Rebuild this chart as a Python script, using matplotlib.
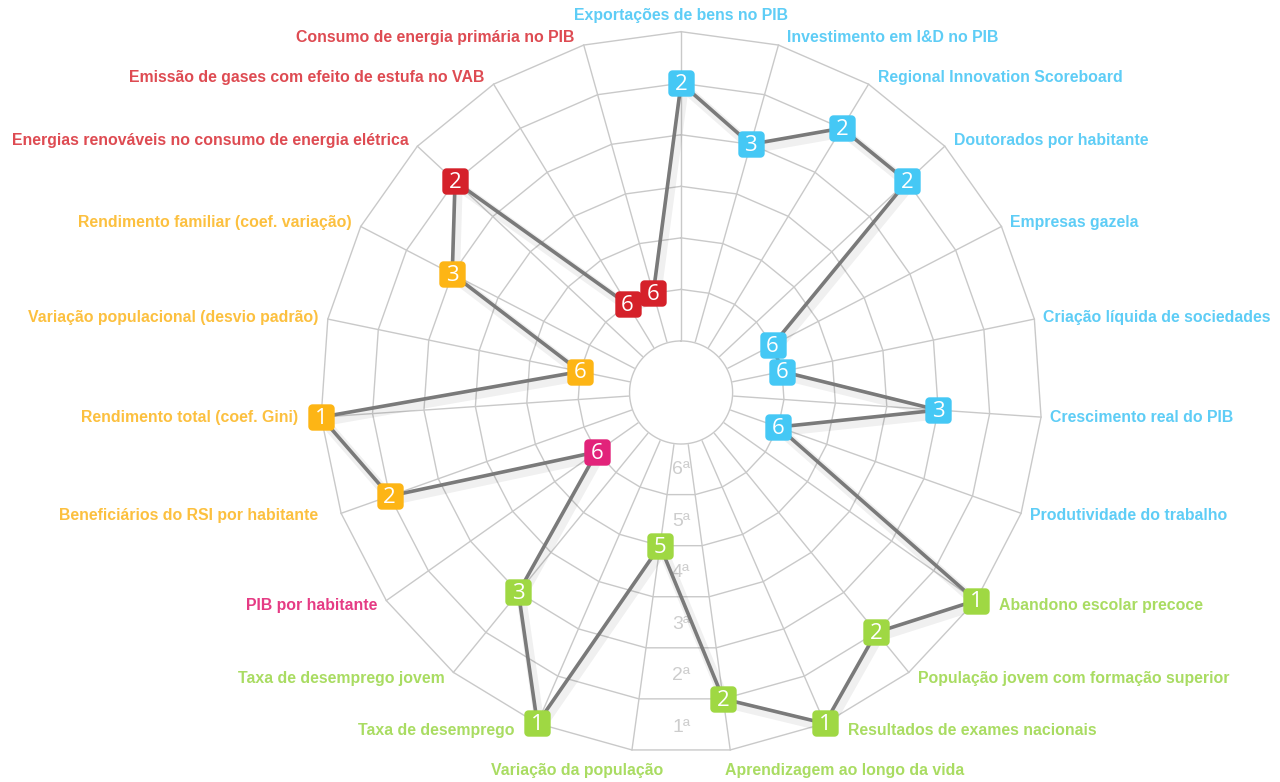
import numpy as np
import matplotlib
matplotlib.use("Agg")
import matplotlib.pyplot as plt
import matplotlib.patheffects as pe
from matplotlib.path import Path

# indicadores (sentido dos ponteiros do relogio, a partir do topo)
labels = [
    "Exportações de bens no PIB", "Investimento em I&D no PIB",
    "Regional Innovation Scoreboard", "Doutorados por habitante",
    "Empresas gazela", "Criação líquida de sociedades",
    "Crescimento real do PIB", "Produtividade do trabalho",
    "Abandono escolar precoce", "População jovem com formação superior",
    "Resultados de exames nacionais", "Aprendizagem ao longo da vida",
    "Variação da população", "Taxa de desemprego",
    "Taxa de desemprego jovem", "PIB por habitante",
    "Beneficiários do RSI por habitante", "Rendimento total (coef. Gini)",
    "Variação populacional (desvio padrão)", "Rendimento familiar (coef. variação)",
    "Energias renováveis no consumo de energia elétrica",
    "Emissão de gases com efeito de estufa no VAB",
    "Consumo de energia primária no PIB",
]
ranks = [2, 3, 2, 2, 6, 6, 3, 6, 1, 2, 1, 2, 5, 1, 3, 6, 2, 1, 6, 3, 2, 6, 6]
groups = ["comp"] * 8 + ["coes"] * 7 + ["pib"] + ["rend"] * 4 + ["amb"] * 3
rank_labels = ["1ª", "2ª", "3ª", "4ª", "5ª", "6ª"]

marker_col = {"comp": "#45C8F5", "coes": "#9FD843", "pib": "#E2237A",
              "rend": "#FDB515", "amb": "#D5212A"}
label_col = {"comp": "#5ECDF6", "coes": "#A9DC62", "pib": "#E53B84",
             "rend": "#FCC03F", "amb": "#DE4B52"}

n = len(labels)
theta = np.arange(n) * 2 * np.pi / n
r = 8 - np.array(ranks)

fig = plt.figure(figsize=(12.8, 7.82), dpi=100)
ax = fig.add_axes([0.2502, 0.0367, 0.5638, 0.9228], projection="polar")
ax.set_theta_zero_location("N")
ax.set_theta_direction(-1)
ax.set_ylim(0, 7)
ax.set_axis_off()

grid = "#C9C9C9"
tc = np.append(theta, theta[0])
for k in range(2, 8):
    ax.plot(tc, [k] * (n + 1), color=grid, lw=1.0, zorder=1, clip_on=False)
for t in theta:
    ax.plot([t, t], [0.86, 7], color=grid, lw=1.0, zorder=1, clip_on=False)
circ = np.linspace(0, 2 * np.pi, 300)
ax.fill(circ, [1] * 300, color="white", zorder=2)
ax.plot(circ, [1] * 300, color=grid, lw=1.0, zorder=2)

for i, lab in enumerate(rank_labels):
    ax.text(np.pi, 6.5 - i, lab, ha="center", va="center", color="#CDCDCD",
            fontsize=14, family="Liberation Sans", zorder=3)

ax.plot(np.append(theta, theta[0]), np.append(r, r[0]), color="#7A7A7A", lw=2.6,
        zorder=4, clip_on=False,
        path_effects=[pe.SimpleLineShadow(offset=(2, -3), alpha=0.06, linewidth=7),
                      pe.Normal()])

# marcador quadrado arredondado
a = np.linspace(0, np.pi / 2, 8)
rc, h = 0.32, 1.0
pts = []
for cx, cy, a0 in [(h - rc, h - rc, 0), (-h + rc, h - rc, np.pi / 2),
                   (-h + rc, -h + rc, np.pi), (h - rc, -h + rc, 1.5 * np.pi)]:
    pts += list(zip(cx + rc * np.cos(a + a0), cy + rc * np.sin(a + a0)))
pts.append(pts[0])
rsq = Path(pts, closed=True)

for t, rv, g, rk in zip(theta, r, groups, ranks):
    ax.plot([t], [rv], marker=rsq, ms=19, color=marker_col[g], mec="none",
            zorder=5, clip_on=False)
    ax.annotate(str(rk), xy=(t, rv), xytext=(0, -1), textcoords="offset points",
                ha="center", va="center", color="white", fontsize=16,
                family="Open Sans", zorder=6, annotation_clip=False)

nudge = {16: (-14, 0)}
for i, (t, lab, g, rk) in enumerate(zip(theta, labels, groups, ranks)):
    s, c = np.sin(t), np.cos(t)
    if abs(s) < 0.05:
        ha, va, dx, dy = "center", "bottom", 0, 9
    elif abs(s) < 0.2:
        va, dy = "center", -21
        ha, dx = ("left", -5) if s > 0 else ("right", 31)
    else:
        ha = "left" if s > 0 else "right"
        va = "center"
        push = 14 if rk == 1 else 0
        dx = np.sign(s) * (9 + push)
        dy = 8 * c
    ex, ey = nudge.get(i, (0, 0))
    ax.annotate(lab, xy=(t, 7), xytext=((dx + ex) * 0.72, (dy + ey) * 0.72),
                textcoords="offset points", ha=ha, va=va, color=label_col[g],
                fontsize=11.4, fontweight="bold", family="Liberation Sans",
                annotation_clip=False, zorder=7)

fig.savefig("out.png", dpi=100, facecolor="white")
